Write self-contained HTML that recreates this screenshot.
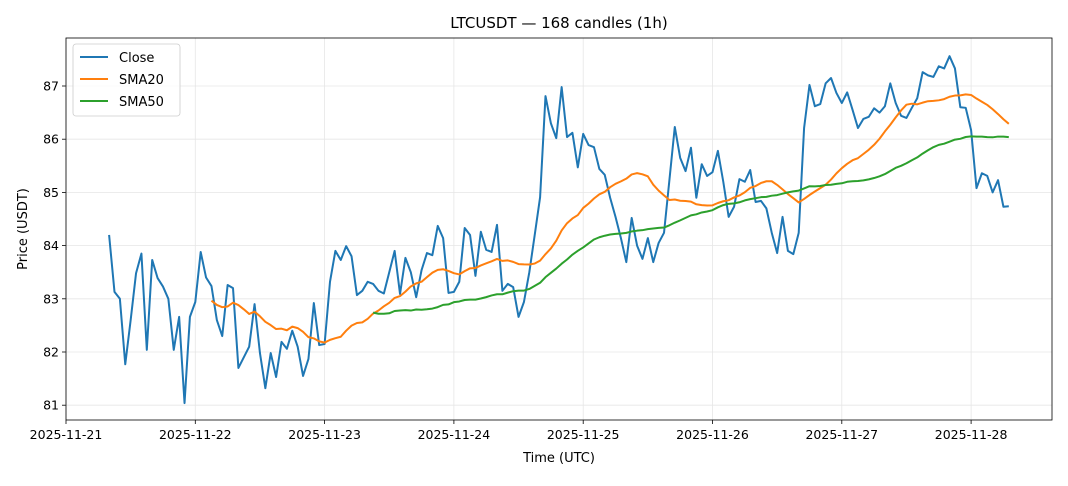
<!DOCTYPE html>
<html><head><meta charset="utf-8"><style>
body{margin:0;background:#fff;font-family:"Liberation Sans",sans-serif}
svg text{font-family:"DejaVu Sans","Liberation Sans",sans-serif}
</style></head><body>
<svg id="c" width="1068" height="481" xmlns="http://www.w3.org/2000/svg"></svg>
<script>
const closes=[84.2,83.13,83.0,81.77,82.6,83.48,83.85,82.04,83.73,83.39,83.23,83.0,82.04,82.66,81.04,82.66,82.94,83.88,83.4,83.24,
82.6,82.3,83.26,83.2,81.7,81.9,82.1,82.9,81.98,81.32,81.98,81.53,82.19,82.06,82.4,82.1,81.55,81.87,82.92,82.13,
82.15,83.32,83.9,83.73,83.99,83.8,83.07,83.15,83.32,83.28,83.15,83.1,83.5,83.9,83.09,83.77,83.5,83.03,83.54,83.86,
83.82,84.37,84.14,83.11,83.13,83.32,84.33,84.2,83.43,84.26,83.92,83.88,84.39,83.15,83.28,83.22,82.66,82.94,83.5,84.2,
84.91,86.81,86.3,86.02,86.98,86.04,86.12,85.47,86.1,85.89,85.85,85.44,85.33,84.9,84.54,84.14,83.69,84.52,84.0,83.75,
84.14,83.69,84.05,84.24,85.23,86.23,85.65,85.4,85.84,84.9,85.53,85.31,85.38,85.78,85.2,84.54,84.73,85.25,85.2,85.42,
84.82,84.84,84.7,84.24,83.86,84.54,83.9,83.84,84.24,86.21,87.02,86.62,86.66,87.05,87.15,86.87,86.68,86.88,86.55,86.21,
86.38,86.42,86.58,86.5,86.62,87.05,86.68,86.44,86.4,86.59,86.77,87.26,87.2,87.17,87.37,87.33,87.56,87.33,86.6,86.59,
86.17,85.08,85.36,85.31,85.0,85.23,84.73,84.74];
const yTicks=[81,82,83,84,85,86,87];
const xTickLabels=["2025-11-21","2025-11-22","2025-11-23","2025-11-24","2025-11-25","2025-11-26","2025-11-27","2025-11-28"];
const startHour=8;
const L=66,R=1052,T=38,B=420;
const dayW=129.3;
const X=h=>L+h*dayW/24;
const Y=v=>86-(v-87)*53.2;
const svg=document.getElementById('c');
const NS='http://www.w3.org/2000/svg';
function mk(t,a,p){const e=document.createElementNS(NS,t);for(const k in a)e.setAttribute(k,a[k]);(p||svg).appendChild(e);return e;}
yTicks.forEach(v=>{const l=mk('line',{x1:L,x2:R,y1:Y(v),y2:Y(v),stroke:'#e6e6e6','stroke-width':0.8});


mk('line',{x1:L-4,x2:L,y1:Y(v),y2:Y(v),stroke:'#000','stroke-width':0.8});
const t=mk('text',{x:L-7,y:Y(v)+4.5,'text-anchor':'end','font-size':12.5,fill:'#000'});t.textContent=v;

});
xTickLabels.forEach((s,i)=>{const x=X(i*24);
const l=mk('line',{x1:x,x2:x,y1:T,y2:B,stroke:'#e6e6e6','stroke-width':0.8});


mk('line',{x1:x,x2:x,y1:B,y2:B+4,stroke:'#000','stroke-width':0.8});
const t=mk('text',{x:x,y:B+19,'text-anchor':'middle','font-size':12.5,fill:'#000'});t.textContent=s;

});
function sma(n){return closes.map((c,i)=>i<n-1?null:closes.slice(i-n+1,i+1).reduce((a,b)=>a+b,0)/n);}
function line(arr,color,name){let d='';arr.forEach((v,i)=>{if(v==null)return;d+=(d?'L':'M')+X(startHour+i).toFixed(2)+','+Y(v).toFixed(2);});
const p=mk('path',{d:d,fill:'none',stroke:color,'stroke-width':2,'stroke-linejoin':'round'});

}
line(closes,'#1f77b4','close-line');
line(sma(20),'#ff7f0e','sma20-line');
line(sma(50),'#2ca02c','sma50-line');
const fr=mk('rect',{x:L,y:T,width:R-L,height:B-T,fill:'none',stroke:'#000','stroke-width':0.8});


const lg=mk('g',{});


mk('rect',{x:73,y:44,width:107,height:72,rx:3,fill:'#fff','fill-opacity':0.8,stroke:'#ccc','stroke-width':0.8},lg);
[['Close','#1f77b4'],['SMA20','#ff7f0e'],['SMA50','#2ca02c']].forEach((e,i)=>{const y=57+i*22;
mk('line',{x1:80,x2:108,y1:y,y2:y,stroke:e[1],'stroke-width':2},lg);
const t=mk('text',{x:119,y:y+5,'font-size':13,fill:'#000'},lg);t.textContent=e[0];

});
const tt=mk('text',{x:(L+R)/2,y:28,'text-anchor':'middle','font-size':15,fill:'#000'});tt.textContent='LTCUSDT — 168 candles (1h)';


const xt=mk('text',{x:(L+R)/2,y:462,'text-anchor':'middle','font-size':13,fill:'#000'});xt.textContent='Time (UTC)';


const yt=mk('text',{x:0,y:0,'text-anchor':'middle','font-size':13,fill:'#000',transform:'translate(27,229) rotate(-90)'});yt.textContent='Price (USDT)';


</script>
</body></html>
